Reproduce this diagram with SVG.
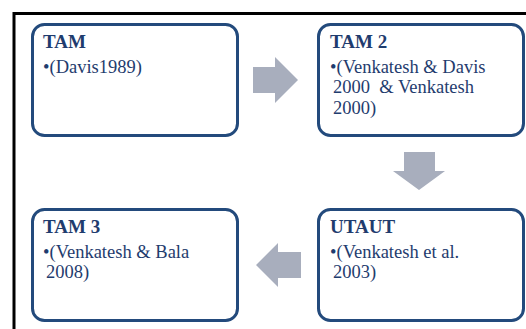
<svg xmlns="http://www.w3.org/2000/svg" width="526" height="329" viewBox="0 0 526 329">
<style>
.box{fill:#fff;stroke:#234a7c;stroke-width:3}
.t{font-family:"Liberation Serif","Times New Roman",serif;font-size:18.5px;fill:#1f3c6e}
.b{font-weight:bold;font-size:19px}
.arr{fill:#a8aebd}
</style>
<rect width="526" height="329" fill="#fff"/>
<path d="M14 329 V13.5 H526" fill="none" stroke="#000" stroke-width="3"/>
<g id="connectors">
<polygon class="arr" points="253,67 275,67 275,57 298,80 275,103 275,93 253,93"/>
<polygon class="arr" points="404,152 435,152 435,171 445,171 419,190 393,171 404,171"/>
<polygon class="arr" points="301,252 278,252 278,243 256,265 278,287 278,278 301,278"/>
</g>
<g id="tam">
<rect class="box" x="32.5" y="24.5" width="205" height="111" rx="12"/>
<text class="t b" x="43" y="48">TAM</text>
<text class="t" x="43" y="72.5">•(Davis1989)</text>
</g>
<g id="tam2">
<rect class="box" x="318.5" y="24.5" width="205" height="111" rx="12"/>
<text class="t b" x="330" y="48">TAM 2</text>
<text class="t" xml:space="preserve"><tspan x="330" y="72.5">•(Venkatesh &amp; Davis</tspan><tspan x="333" y="93">2000  &amp; Venkatesh</tspan><tspan x="333" y="113.5">2000)</tspan></text>
</g>
<g id="utaut">
<rect class="box" x="318.5" y="209.5" width="205" height="111" rx="12"/>
<text class="t b" x="330" y="233">UTAUT</text>
<text class="t"><tspan x="330" y="257.5">•(Venkatesh et al.</tspan><tspan x="333" y="278">2003)</tspan></text>
</g>
<g id="tam3">
<rect class="box" x="32.5" y="209.5" width="205" height="111" rx="12"/>
<text class="t b" x="43" y="233">TAM 3</text>
<text class="t"><tspan x="43" y="257.5">•(Venkatesh &amp; Bala</tspan><tspan x="46" y="278">2008)</tspan></text>
</g>
</svg>
